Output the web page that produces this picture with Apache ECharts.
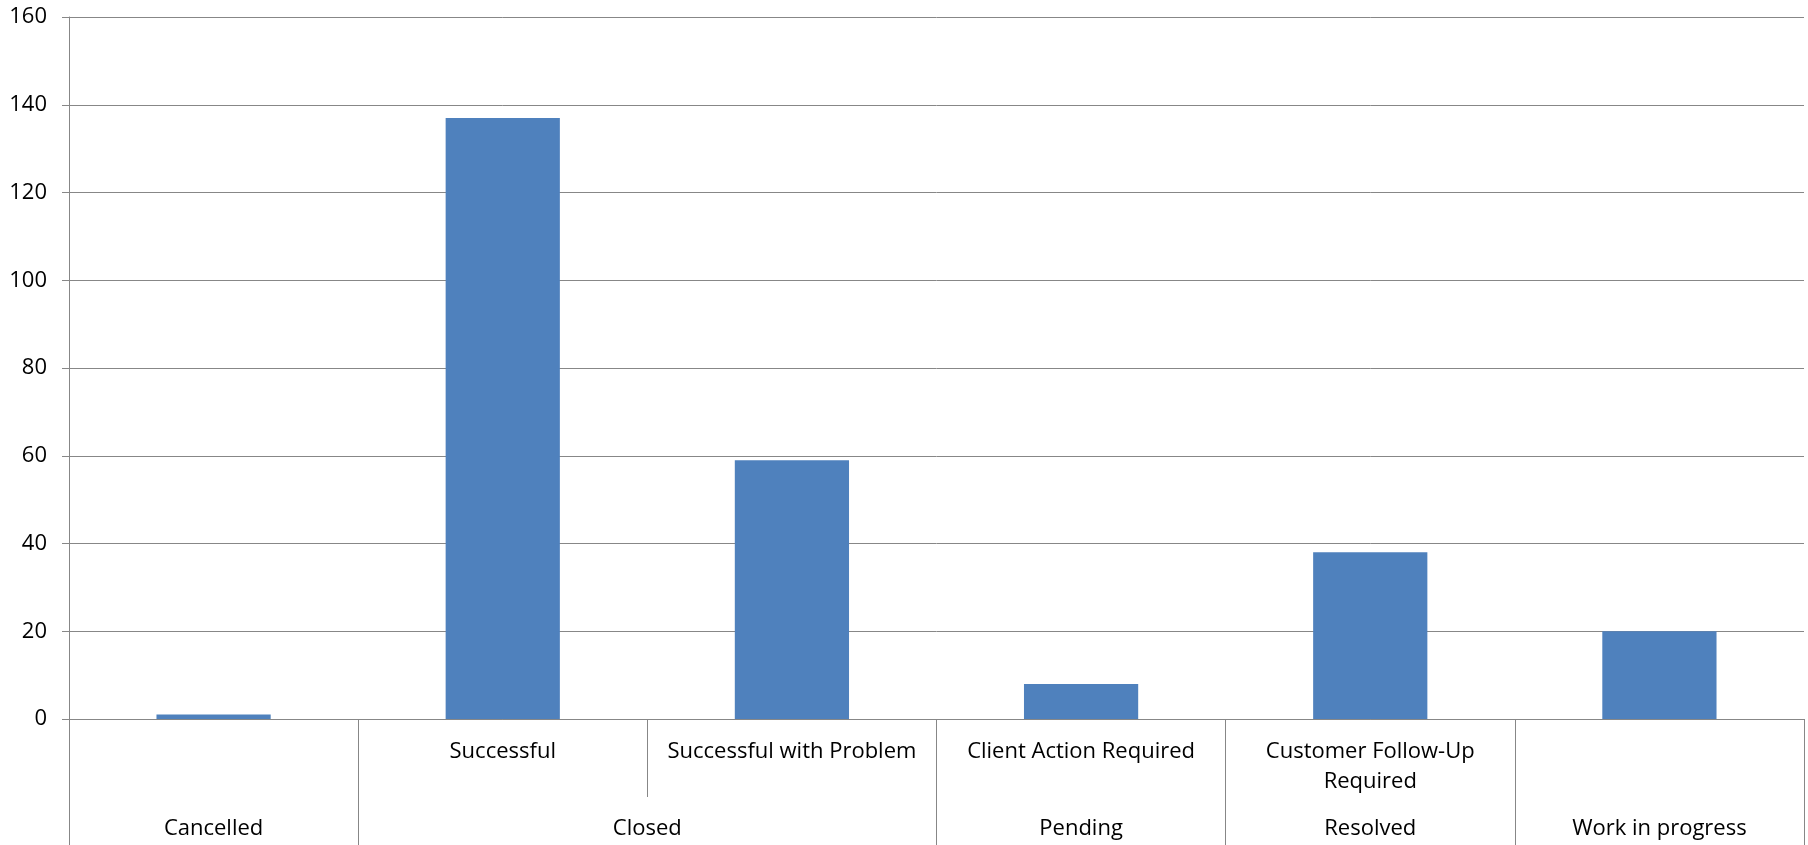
<!DOCTYPE html>
<html>
<head>
<meta charset="utf-8">
<script src="https://cdn.jsdelivr.net/npm/echarts@6/dist/echarts.min.js"></script>
<style>
html,body{margin:0;padding:0;background:#fff;}
#chart{width:1808px;height:845px;}
</style>
</head>
<body>
<div id="chart"></div>
<script>
const subCategories = ['', 'Successful', 'Successful with Problem', 'Client Action Required', 'Customer Follow-Up\nRequired', ''];
const values = [1, 137, 59, 8, 38, 20];
const groups = ['Cancelled', 'Closed', 'Pending', 'Resolved', 'Work in progress'];
const groupCenters = [0.5, 2, 3.5, 4.5, 5.5];
const groupBounds = [0, 1, 3, 4, 5, 6];
const yTicks = [0, 20, 40, 60, 80, 100, 120, 140, 160];

const FONT = 'Open Sans';
const GRAY = '#878787';
const chart = echarts.init(document.getElementById('chart'));
chart.setOption({
  animation: false,
  grid: {left: 69, right: 4, top: 17, bottom: 126, containLabel: false},
  xAxis: [
    {
      type: 'category',
      data: subCategories,
      position: 'bottom',
      axisLine: {show: true, lineStyle: {color: GRAY, width: 1}},
      axisTick: {show: true, interval: 0, length: 78, lineStyle: {color: GRAY, width: 1}},
      axisLabel: {interval: 0, margin: 18, color: '#000', fontFamily: FONT, fontSize: 22, lineHeight: 30}
    },
    {
      type: 'value',
      min: 0, max: 6,
      position: 'bottom',
      axisLine: {show: false},
      splitLine: {show: false},
      axisTick: {show: true, customValues: groupBounds, length: 126, lineStyle: {color: GRAY, width: 1}},
      axisLabel: {
        customValues: groupCenters, margin: 95, color: '#000', fontFamily: FONT, fontSize: 22, lineHeight: 30,
        formatter: function (v) { const i = groupCenters.indexOf(v); return i >= 0 ? groups[i] : ''; }
      }
    }
  ],
  yAxis: {
    type: 'value',
    min: yTicks[0], max: yTicks[yTicks.length - 1], interval: 20,
    axisLine: {show: true, lineStyle: {color: GRAY, width: 1}},
    axisTick: {show: true, length: 7, lineStyle: {color: GRAY, width: 1}},
    splitLine: {show: true, lineStyle: {color: GRAY, width: 1}},
    axisLabel: {margin: 22, color: '#000', fontFamily: FONT, fontSize: 22}
  },
  series: [{
    type: 'bar',
    xAxisIndex: 0,
    data: values,
    barWidth: '39.5%',
    itemStyle: {color: '#4F81BD'}
  }]
});
</script>
</body>
</html>
